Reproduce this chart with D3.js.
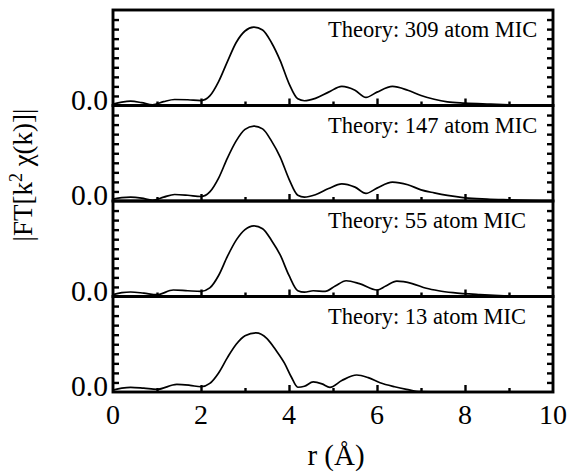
<!DOCTYPE html>
<html><head><meta charset="utf-8">
<script src="https://cdn.jsdelivr.net/npm/d3@7"></script>
<style>
body{margin:0;background:#fff;}
svg{display:block;}
text{font-family:"Liberation Serif","Times New Roman",serif;fill:#000;}
</style></head>
<body><svg id="c" width="569" height="472"></svg>
<script>
// ---- data ----
const panelLabels = ["Theory: 309 atom MIC","Theory: 147 atom MIC","Theory: 55 atom MIC","Theory: 13 atom MIC"];
const xTickValues = [0,1,2,3,4,5,6,7,8,9,10];
const xTickLabels = ["0","2","4","6","8","10"];
const yTickLabel = "0.0";

const r1 = [0,0.2,0.4,0.65,0.9,1.15,1.4,1.7,2.0,2.2,2.4,2.6,2.8,3.0,3.2,3.4,3.6,3.8,4.0,4.2,4.35,4.6,4.9,5.2,5.5,5.75,6.0,6.35,6.7,7.0,7.3,7.6,8.0,8.5,9.0,9.5,10];
const v1 = [0.15,0.35,0.45,0.3,0.07,0.4,0.63,0.6,0.52,1.0,2.5,4.6,6.6,7.8,8.2,7.9,6.6,4.7,2.3,0.7,0.5,0.75,1.4,2.0,1.6,0.85,1.4,2.0,1.6,1.05,0.65,0.38,0.25,0.15,0.07,0.03,0.0];

const r2 = [0,0.2,0.4,0.65,0.9,1.15,1.4,1.7,2.0,2.2,2.4,2.6,2.8,3.0,3.2,3.4,3.6,3.8,4.0,4.2,4.35,4.6,4.9,5.2,5.5,5.75,6.0,6.35,6.7,7.0,7.3,7.6,8.0,8.5,9.0,9.5,10];
const v2 = [0.2,0.35,0.4,0.3,0.08,0.4,0.68,0.6,0.47,0.95,2.4,4.5,6.3,7.5,7.85,7.55,6.3,4.6,2.3,0.6,0.4,0.65,1.3,1.8,1.45,0.8,1.35,1.97,1.7,1.17,0.85,0.58,0.33,0.2,0.12,0.05,0.0];

const r3 = [0,0.2,0.4,0.7,1.0,1.37,1.7,2.0,2.2,2.4,2.6,2.8,3.0,3.2,3.4,3.6,3.8,4.0,4.2,4.35,4.55,4.82,5.05,5.3,5.6,6.0,6.2,6.45,6.8,7.12,7.4,7.73,8.34,9.0,9.5,10];
const v3 = [0.2,0.4,0.47,0.35,0.19,0.68,0.6,0.54,0.9,2.2,4.2,5.9,7.0,7.4,7.1,5.9,4.35,2.2,0.6,0.45,0.6,0.54,1.1,1.65,1.35,0.68,1.1,1.6,1.35,0.86,0.6,0.4,0.19,0.05,0.0,0.0];

const r4 = [0,0.2,0.4,0.7,1.0,1.45,1.75,2.0,2.2,2.4,2.6,2.8,3.0,3.25,3.5,3.7,3.9,4.05,4.2,4.35,4.55,4.75,4.93,5.2,5.54,5.8,6.07,6.4,6.67,6.98,7.5,8.0,9.0,10];
const v4 = [0.2,0.4,0.49,0.4,0.28,0.8,0.7,0.55,0.9,2.0,3.6,5.0,5.9,6.2,5.6,4.4,3.0,1.6,0.5,0.6,1.05,0.85,0.49,1.2,1.78,1.5,0.97,0.55,0.28,0.03,0.0,0.0,0.0,0.0];

const rs = [r1,r2,r3,r4];
const vs = [v1,v2,v3,v4];

// ---- layout ----
const svg = d3.select("#c");
const mL = 113, mR = 553, mT = 10, mB = 392;
const nP = 4, pH = (mB - mT) / nP;
const x = d3.scaleLinear().domain([0,10]).range([mL,mR]);

for (let i = 0; i < nP; i++) {
  const pTop = mT + i*pH, pBot = pTop + pH;
  const y = d3.scaleLinear().domain([0,10]).range([pBot,pTop]);
  const g = svg.append("g");

  const yl = g.append("g").attr("transform",`translate(${mL},0)`)
    .call(d3.axisLeft(y).tickValues(d3.range(1,10)).tickSizeInner(-6).tickSizeOuter(0).tickFormat(""));
  const yr = g.append("g").attr("transform",`translate(${mR},0)`)
    .call(d3.axisRight(y).tickValues(d3.range(1,10)).tickSizeInner(-6).tickSizeOuter(0).tickFormat(""));
  const xa = g.append("g").attr("transform",`translate(0,${pBot})`)
    .call(d3.axisBottom(x).tickValues(xTickValues.filter(d=>d%2===0 && d>0 && d<10)).tickSizeInner(-7).tickSizeOuter(0).tickFormat(""));
  const xb = g.append("g").attr("transform",`translate(0,${pBot})`)
    .call(d3.axisBottom(x).tickValues(xTickValues.filter(d=>d%2===1)).tickSizeInner(-4).tickSizeOuter(0).tickFormat(""));
  [yl,yr,xa,xb].forEach(a=>{ a.select(".domain").remove(); a.selectAll("line").attr("stroke","#000").attr("stroke-width",2.4); });

  const data = rs[i].map((r,k)=>[r,vs[i][k]]);
  g.append("path").datum(data)
    .attr("fill","none").attr("stroke","#000").attr("stroke-width",1.7)
    .attr("d", d3.line().x(d=>x(d[0])).y(d=>y(d[1])).curve(d3.curveMonotoneX));

  g.append("rect").attr("x",mL).attr("y",pTop).attr("width",mR-mL).attr("height",pH)
    .attr("fill","none").attr("stroke","#000").attr("stroke-width",2.9);

  g.append("text").attr("x",mL-5).attr("y",y(0)+4).attr("text-anchor","end")
    .attr("font-size",29).attr("textLength",37).attr("lengthAdjust","spacingAndGlyphs").text(yTickLabel);

  g.append("text").attr("x",328).attr("y",pTop+27).attr("font-size",22.5).text(panelLabels[i]);
}

svg.append("g").selectAll("text").data(xTickLabels).join("text")
  .attr("x",d=>x(+d)).attr("y",424).attr("text-anchor","middle").attr("font-size",28).text(d=>d);

svg.append("text").attr("x",336).attr("y",465).attr("text-anchor","middle").attr("font-size",29).text("r (Å)");
const yt = svg.append("text").attr("transform","translate(32,175) rotate(-90)").attr("text-anchor","middle").attr("font-size",27);
yt.append("tspan").text("|FT[k");
yt.append("tspan").attr("font-size",18).attr("dy",-10).text("2");
yt.append("tspan").attr("dy",10).text(" χ(k)]|");
</script></body></html>
